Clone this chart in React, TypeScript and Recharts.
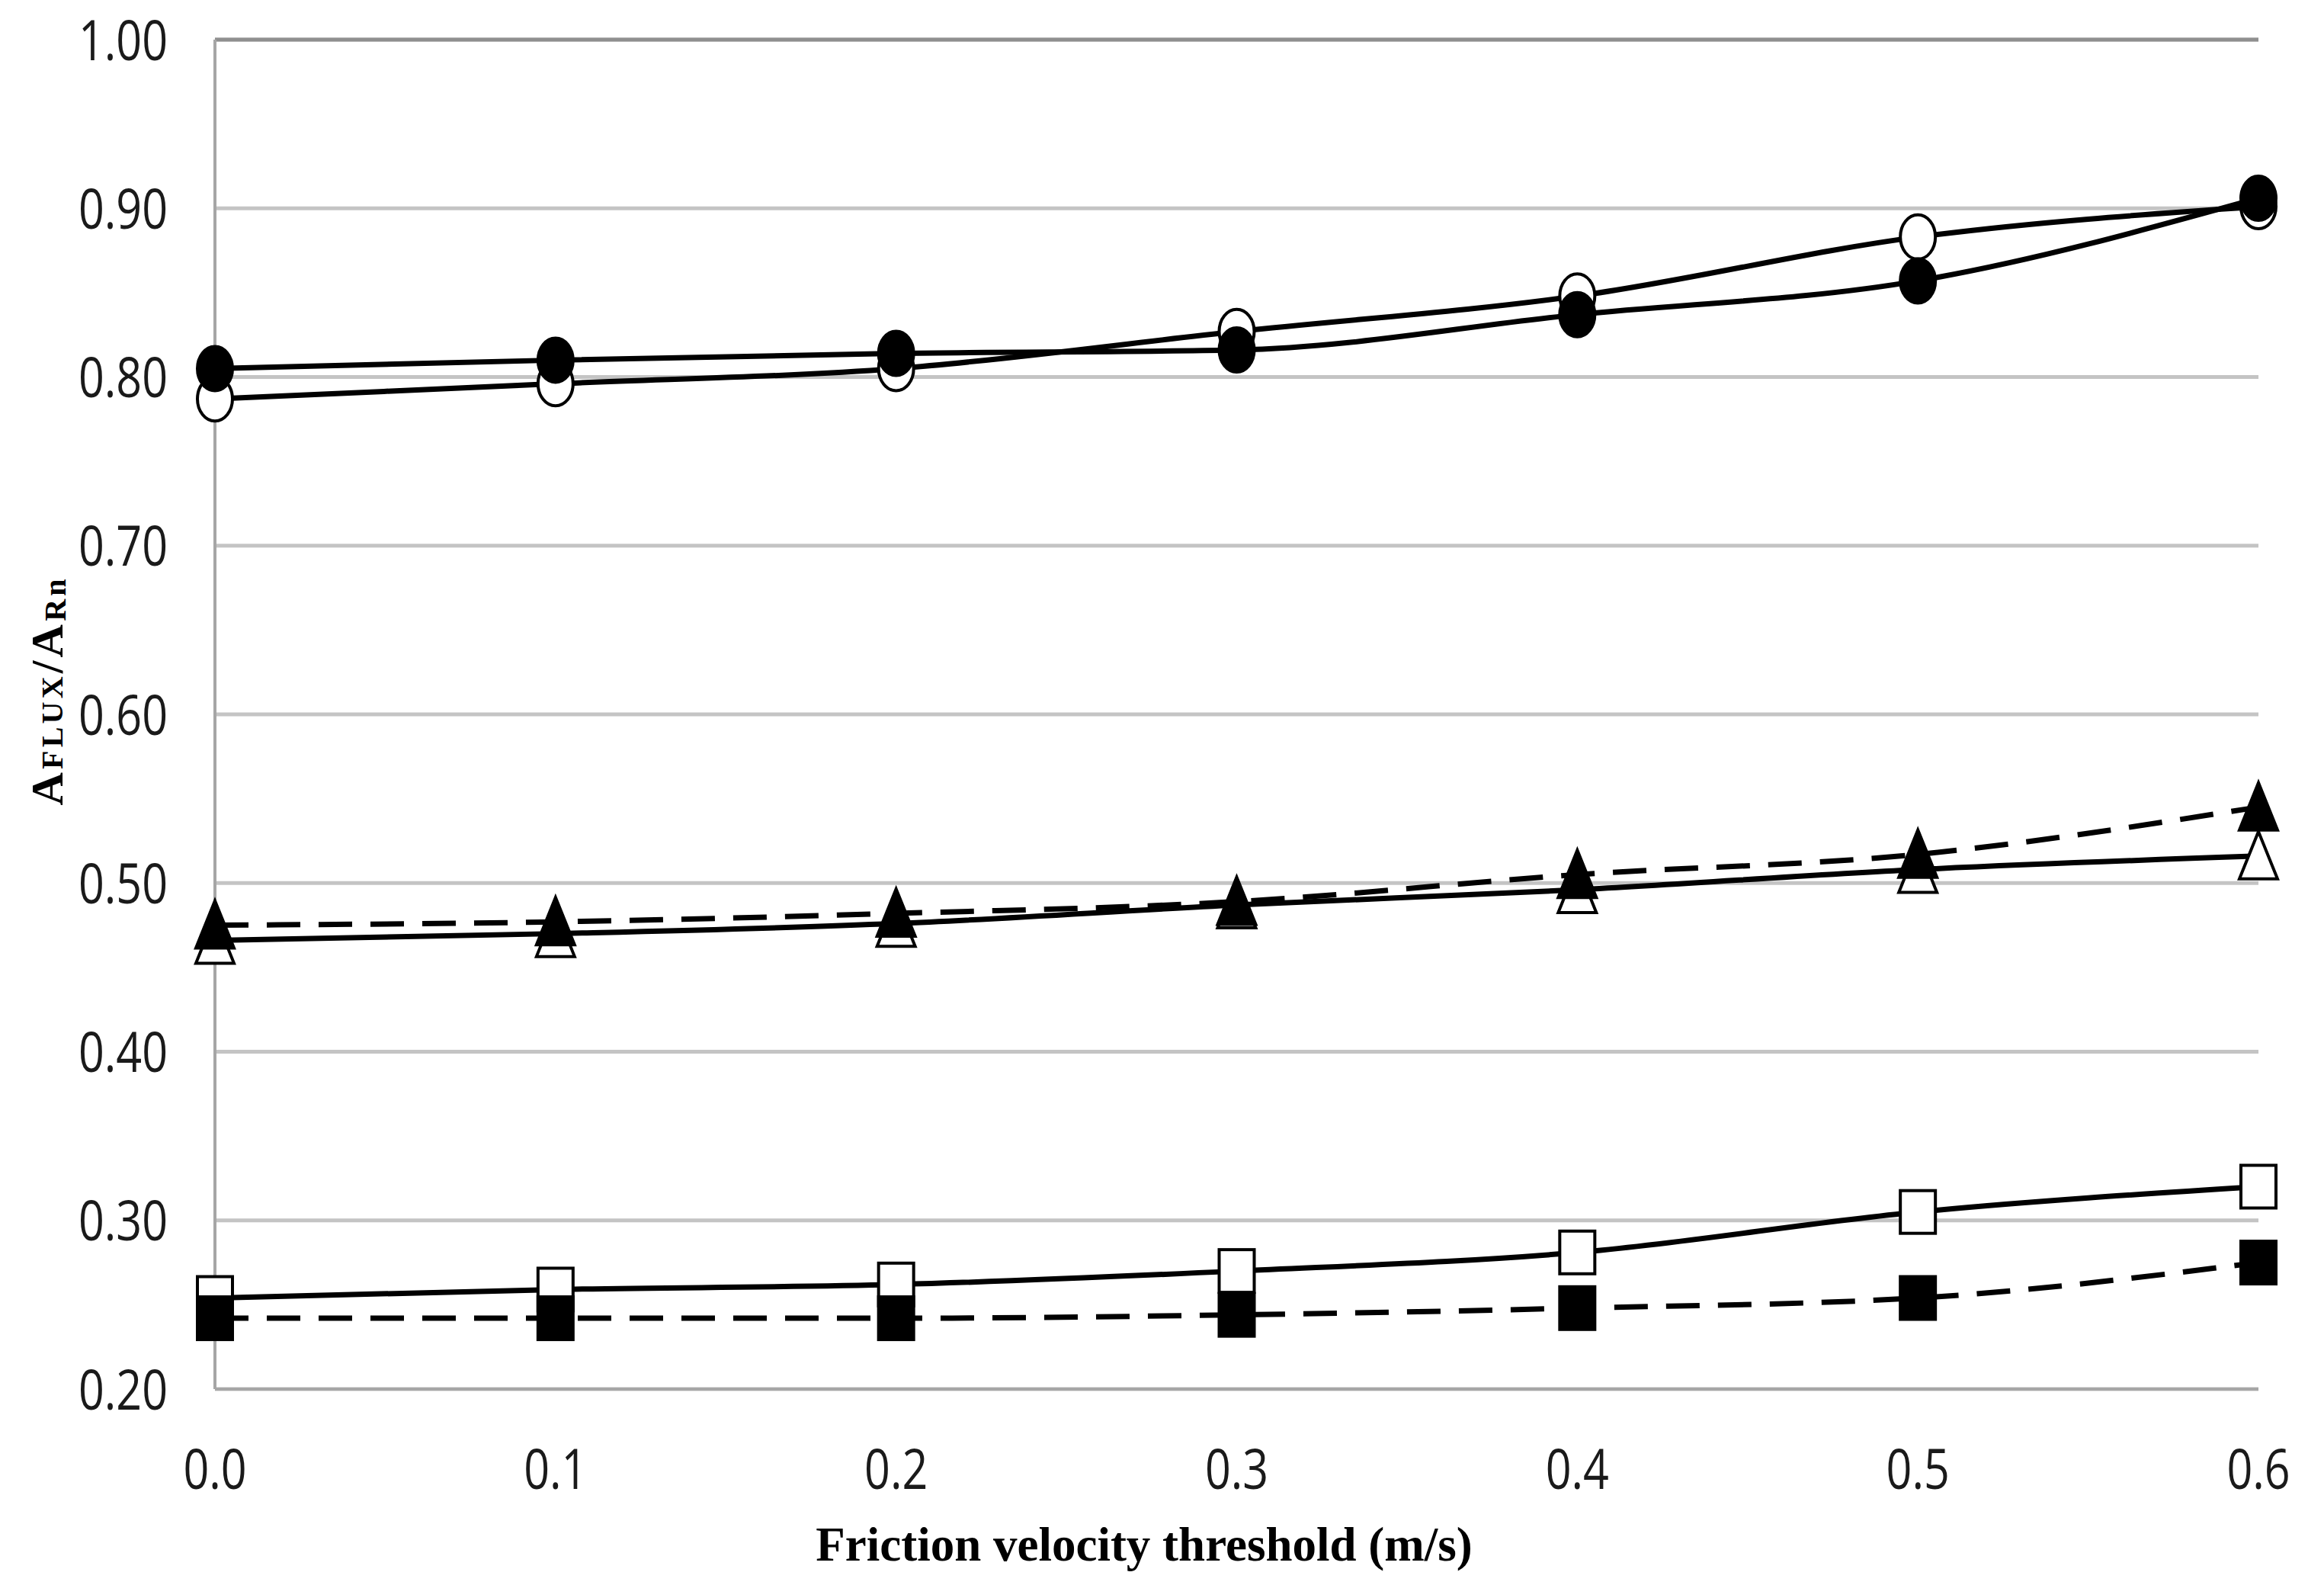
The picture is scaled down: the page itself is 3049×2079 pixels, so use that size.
import React from 'react'
import { LineChart, Line, XAxis, YAxis, CartesianGrid, ReferenceLine } from 'recharts'

const thresholds = [0, 0.1, 0.2, 0.3, 0.4, 0.5, 0.6]
const openCircle = [0.787, 0.796, 0.805, 0.827, 0.848, 0.883, 0.901]
const filledCircle = [0.805, 0.81, 0.814, 0.816, 0.837, 0.857, 0.906]
const openTriangle = [0.466, 0.47, 0.476, 0.487, 0.496, 0.508, 0.516]
const filledTriangle = [0.475, 0.477, 0.482, 0.489, 0.505, 0.517, 0.545]
const openSquare = [0.254, 0.259, 0.262, 0.27, 0.281, 0.305, 0.32]
const filledSquare = [0.242, 0.242, 0.242, 0.244, 0.248, 0.254, 0.275]

const xTicks = [0, 0.1, 0.2, 0.3, 0.4, 0.5, 0.6]
const yTicks = [0.2, 0.3, 0.4, 0.5, 0.6, 0.7, 0.8, 0.9, 1.0]

const data = thresholds.map((u, i) => ({
  u,
  openCircle: openCircle[i],
  filledCircle: filledCircle[i],
  openTriangle: openTriangle[i],
  filledTriangle: filledTriangle[i],
  openSquare: openSquare[i],
  filledSquare: filledSquare[i],
}))

const W = 3049
const H = 2079
const tickFont = '"Open Sans", "Liberation Sans", sans-serif'

type Shape = 'circle' | 'triangle' | 'square'

function makeDot(shape: Shape, filled: boolean) {
  return (props: any) => {
    const { cx, cy, index } = props
    if (cx == null || cy == null) return <g key={index} />
    const fill = filled ? '#000' : '#fff'
    const common = { fill, stroke: '#000', strokeWidth: 4 }
    if (shape === 'circle') {
      return <ellipse key={index} cx={cx} cy={cy} rx={23} ry={29} {...common} />
    }
    if (shape === 'triangle') {
      const pts = `${cx},${cy - 32} ${cx - 25},${cy + 30} ${cx + 25},${cy + 30}`
      return <polygon key={index} points={pts} {...common} />
    }
    return <rect key={index} x={cx - 23} y={cy - 28} width={46} height={56} {...common} />
  }
}

const YTick = (props: any) => {
  const { x, y, payload } = props
  return (
    <text
      transform={`translate(${x},${y}) scale(0.8,1)`}
      textAnchor="end"
      dy="0.36em"
      fontFamily={tickFont}
      fontSize={74}
      fill="#1a1a1a"
    >
      {payload.value.toFixed(2)}
    </text>
  )
}

const XTick = (props: any) => {
  const { x, y, payload } = props
  return (
    <text
      transform={`translate(${x},${y + 131}) scale(0.8,1)`}
      textAnchor="middle"
      fontFamily={tickFont}
      fontSize={74}
      fill="#1a1a1a"
    >
      {payload.value.toFixed(1)}
    </text>
  )
}

const YTitle = () => (
  <text
    transform="rotate(-90, 82, 908)"
    x={82}
    y={908}
    textAnchor="middle"
    fontFamily='"Liberation Serif", "Times New Roman", serif'
    fontWeight="bold"
    fill="#000"
    textLength={297}
    lengthAdjust="spacing"
  >
    <tspan fontSize={60}>A</tspan>
    <tspan fontSize={40}>FLUX</tspan>
    <tspan fontSize={60}>/A</tspan>
    <tspan fontSize={40} dy={4}>Rn</tspan>
  </text>
)

const XTitle = () => (
  <text
    x={1501}
    y={2047}
    textAnchor="middle"
    fontFamily='"Liberation Serif", "Times New Roman", serif'
    fontWeight="bold"
    fontSize={63}
    fill="#000"
  >
    Friction velocity threshold (m/s)
  </text>
)

export default function App() {
  return (
    <div style={{ position: 'absolute', left: 0, top: 0, width: W, height: H, background: '#fff' }}>
      <LineChart
        width={W}
        height={H}
        data={data}
        margin={{ top: 52, right: 86, left: 82, bottom: 157 }}
      >
        <CartesianGrid vertical={false} stroke="#c4c4c4" strokeWidth={5} />
        <ReferenceLine y={1} stroke="#8f8f8f" strokeWidth={5} />
        <XAxis
          dataKey="u"
          type="number"
          domain={[0, 0.6]}
          ticks={xTicks}
          height={100}
          tickLine={false}
          tickSize={0}
          tickMargin={0}
          axisLine={{ stroke: '#a6a6a6', strokeWidth: 4 }}
          tick={<XTick />}
          label={<XTitle />}
          interval={0}
        />
        <YAxis
          type="number"
          domain={[0.2, 1.0]}
          ticks={yTicks}
          width={200}
          tickLine={false}
          tickSize={0}
          tickMargin={62}
          axisLine={{ stroke: '#a6a6a6', strokeWidth: 4 }}
          tick={<YTick />}
          label={<YTitle />}
          interval={0}
        />

        {/* open markers first, filled ones on top */}
        <Line type="monotone" dataKey="openCircle" stroke="#000" strokeWidth={7}
          dot={makeDot('circle', false)} isAnimationActive={false} />
        <Line type="monotone" dataKey="filledCircle" stroke="#000" strokeWidth={7}
          dot={makeDot('circle', true)} isAnimationActive={false} />

        <Line type="monotone" dataKey="openTriangle" stroke="#000" strokeWidth={7}
          dot={makeDot('triangle', false)} isAnimationActive={false} />
        <Line type="monotone" dataKey="filledTriangle" stroke="#000" strokeWidth={7}
          strokeDasharray="44 24" dot={makeDot('triangle', true)} isAnimationActive={false} />

        <Line type="monotone" dataKey="openSquare" stroke="#000" strokeWidth={7}
          dot={makeDot('square', false)} isAnimationActive={false} />
        <Line type="monotone" dataKey="filledSquare" stroke="#000" strokeWidth={7}
          strokeDasharray="44 24" dot={makeDot('square', true)} isAnimationActive={false} />
      </LineChart>
    </div>
  )
}
